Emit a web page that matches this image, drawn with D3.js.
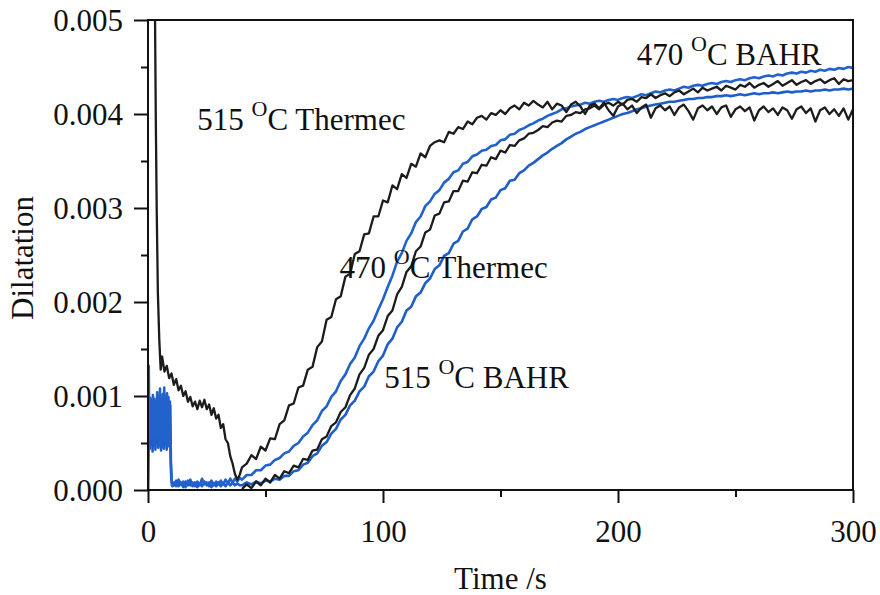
<!DOCTYPE html>
<html>
<head>
<meta charset="utf-8">
<script src="https://cdn.jsdelivr.net/npm/d3@7"></script>
<style>
  html, body { margin: 0; padding: 0; background: #fff; }
  svg { display: block; }
  text { font-family: "Liberation Serif", "Times New Roman", serif; fill: #111; }
</style>
</head>
<body>
<svg id="chart" width="880" height="595"></svg>
<script>
// ---- axis ticks ----
const xMajorTicks = [0, 100, 200, 300];
const xMinorTicks = [50, 150, 250];
const yMajorTicks = [0, 0.001, 0.002, 0.003, 0.004, 0.005];
const yMinorTicks = [0.0005, 0.0015, 0.0025, 0.0035, 0.0045];

// ---- sampling grid for the main part of each run (s) ----
const gridTimes = d3.range(40, 301, 2);

// ---- 515 °C Thermec ----
const thermec515EarlyT = [2.6, 3.0, 3.3, 3.7, 4.2, 4.8, 5.4, 6, 7, 8, 9, 10, 11, 12, 13, 14, 15, 16, 17, 18, 19, 20,
  21, 22, 23, 24, 25, 26, 27, 28, 29, 30, 31, 32, 33, 34, 35, 36, 37, 38, 39];
const thermec515EarlyV = [0.0062, 0.0050, 0.0040, 0.0030, 0.0021, 0.0016, 0.00128, 0.00142, 0.00126, 0.00132, 0.00119,
  0.00124, 0.00112, 0.00118, 0.00106, 0.00111, 0.00100, 0.00105, 0.00094, 0.00099, 0.00089, 0.00094, 0.00086, 0.00095,
  0.00088, 0.00096, 0.00086, 0.00091, 0.00080, 0.00087, 0.00076, 0.00080, 0.00066, 0.00070, 0.00054, 0.00050, 0.00036,
  0.00028, 0.00017, 0.00011, 0.00016];
const thermec515Main = [
  0.00024, 0.00028, 0.00037, 0.00033, 0.00046, 0.00042, 0.00055, 0.00054, 0.00070, 0.00074,
  0.00090, 0.00092, 0.00109, 0.00111, 0.00128, 0.00131, 0.00152, 0.00158, 0.00181, 0.00184,
  0.00203, 0.00206, 0.00227, 0.00230, 0.00251, 0.00254, 0.00272, 0.00273, 0.00291, 0.00291,
  0.00308, 0.00306, 0.00324, 0.00320, 0.00336, 0.00332, 0.00347, 0.00344, 0.00358, 0.00354,
  0.00366, 0.00370, 0.00372, 0.00370, 0.00381, 0.00379, 0.00386, 0.00384, 0.00392, 0.00389,
  0.00396, 0.00398, 0.00394, 0.00401, 0.00399, 0.00404, 0.00400, 0.00406, 0.00409, 0.00405,
  0.00412, 0.00409, 0.00414, 0.00410, 0.00407, 0.00413, 0.00405, 0.00411, 0.00409, 0.00402,
  0.00410, 0.00413, 0.00408, 0.00400, 0.00409, 0.00411, 0.00406, 0.00412, 0.00404, 0.00398,
  0.00408, 0.00411, 0.00405, 0.00409, 0.00401, 0.00407, 0.00410, 0.00396, 0.00406, 0.00409,
  0.00404, 0.00408, 0.00399, 0.00407, 0.00410, 0.00403, 0.00394, 0.00406, 0.00409, 0.00404,
  0.00408, 0.00400, 0.00407, 0.00409, 0.00397, 0.00405, 0.00408, 0.00403, 0.00407, 0.00393,
  0.00404, 0.00408, 0.00402, 0.00406, 0.00399, 0.00407, 0.00404, 0.00395, 0.00405, 0.00408,
  0.00401, 0.00406, 0.00392, 0.00404, 0.00407, 0.00400, 0.00405, 0.00398, 0.00406, 0.00394,
  0.00405];

// ---- 470 °C Thermec ----
const thermec470Main = [
  0.00001, 0.00006, 0.00002, 0.00009, 0.00005, 0.00012, 0.00008, 0.00016, 0.00012, 0.00020,
  0.00018, 0.00026, 0.00024, 0.00033, 0.00032, 0.00042, 0.00043, 0.00054, 0.00057, 0.00068,
  0.00072, 0.00083, 0.00088, 0.00101, 0.00108, 0.00123, 0.00130, 0.00144, 0.00150, 0.00164,
  0.00170, 0.00185, 0.00191, 0.00208, 0.00216, 0.00232, 0.00238, 0.00254, 0.00259, 0.00274,
  0.00277, 0.00292, 0.00294, 0.00306, 0.00307, 0.00318, 0.00318, 0.00329, 0.00328, 0.00338,
  0.00337, 0.00346, 0.00345, 0.00354, 0.00352, 0.00361, 0.00359, 0.00367, 0.00366, 0.00372,
  0.00374, 0.00379, 0.00380, 0.00383, 0.00387, 0.00386, 0.00391, 0.00393, 0.00392, 0.00398,
  0.00399, 0.00402, 0.00401, 0.00405, 0.00406, 0.00409, 0.00405, 0.00410, 0.00412, 0.00409,
  0.00413, 0.00410, 0.00415, 0.00416, 0.00413, 0.00418, 0.00417, 0.00421, 0.00417, 0.00420,
  0.00422, 0.00419, 0.00423, 0.00425, 0.00421, 0.00424, 0.00427, 0.00423, 0.00428, 0.00425,
  0.00427, 0.00429, 0.00425, 0.00430, 0.00428, 0.00426, 0.00431, 0.00429, 0.00433, 0.00428,
  0.00431, 0.00433, 0.00429, 0.00432, 0.00435, 0.00430, 0.00433, 0.00436, 0.00431, 0.00434,
  0.00436, 0.00432, 0.00435, 0.00437, 0.00433, 0.00436, 0.00438, 0.00432, 0.00437, 0.00435,
  0.00436];

// ---- 470 °C BAHR ----
const bahr470EarlyT = [0, 0.3, 0.6, 0.9, 1.2, 1.5, 1.8, 2.1, 2.4, 2.7, 3.0, 3.3, 3.6, 3.9, 4.2, 4.5, 4.8, 5.1, 5.4,
  5.7, 6.0, 6.3, 6.6, 6.9, 7.2, 7.5, 7.8, 8.1, 8.4, 8.7, 9.0, 9.3, 9.6, 9.9, 10.2,
  11, 12, 13, 14, 15, 16, 17, 18, 19, 20, 21, 22, 23, 24, 25, 26, 27, 28, 29, 30, 31, 32, 33, 34, 35, 36, 37, 38, 39];
const bahr470EarlyV = [0, 0.00132, 0.00062, 0.00098, 0.00055, 0.00096, 0.00058, 0.00101, 0.00049, 0.00097, 0.00061,
  0.00094, 0.00052, 0.00104, 0.00057, 0.00099, 0.00048, 0.00108, 0.00060, 0.00095, 0.00046, 0.00102, 0.00056, 0.00109,
  0.00052, 0.00097, 0.00058, 0.00103, 0.00047, 0.00099, 0.00062, 0.00094, 0.00035, 0.00012, 0.00005,
  0.00008, 0.00004, 0.00011, 0.00006, 0.00009, 0.00003, 0.00010, 0.00005, 0.00008, 0.00004, 0.00009, 0.00005, 0.00012,
  0.00006, 0.00008, 0.00004, 0.00010, 0.00005, 0.00009, 0.00006, 0.00010, 0.00006, 0.00011, 0.00007, 0.00012, 0.00008,
  0.00012, 0.00009, 0.00013];
const bahr470Main = [
  0.00011, 0.00016, 0.00016, 0.00021, 0.00021, 0.00026, 0.00027, 0.00032, 0.00034, 0.00039,
  0.00041, 0.00047, 0.00050, 0.00057, 0.00061, 0.00069, 0.00074, 0.00084, 0.00089, 0.00099,
  0.00105, 0.00116, 0.00123, 0.00134, 0.00141, 0.00153, 0.00161, 0.00172, 0.00180, 0.00192,
  0.00203, 0.00216, 0.00228, 0.00243, 0.00252, 0.00265, 0.00273, 0.00285, 0.00291, 0.00302,
  0.00307, 0.00315, 0.00319, 0.00327, 0.00331, 0.00338, 0.00340, 0.00347, 0.00349, 0.00355,
  0.00357, 0.00361, 0.00362, 0.00366, 0.00367, 0.00372, 0.00373, 0.00378, 0.00379, 0.00383,
  0.00385, 0.00388, 0.00390, 0.00393, 0.00395, 0.00398, 0.00400, 0.00402, 0.00405, 0.00406,
  0.00408, 0.00409, 0.00410, 0.00412, 0.00411, 0.00413, 0.00414, 0.00413, 0.00415, 0.00416,
  0.00415, 0.00417, 0.00418, 0.00417, 0.00419, 0.00421, 0.00420, 0.00422, 0.00424, 0.00423,
  0.00425, 0.00426, 0.00425, 0.00427, 0.00429, 0.00428, 0.00430, 0.00431, 0.00430, 0.00432,
  0.00433, 0.00432, 0.00434, 0.00435, 0.00434, 0.00436, 0.00437, 0.00436, 0.00438, 0.00439,
  0.00438, 0.00440, 0.00441, 0.00440, 0.00442, 0.00441, 0.00443, 0.00444, 0.00443, 0.00445,
  0.00444, 0.00446, 0.00445, 0.00447, 0.00446, 0.00448, 0.00447, 0.00449, 0.00448, 0.00450,
  0.00449];

// ---- 515 °C BAHR ----
const bahr515EarlyT = [0, 0.45, 0.75, 1.05, 1.35, 1.65, 1.95, 2.25, 2.55, 2.85, 3.15, 3.45, 3.75, 4.05, 4.35, 4.65,
  4.95, 5.25, 5.55, 5.85, 6.15, 6.45, 6.75, 7.05, 7.35, 7.65, 7.95, 8.25, 8.55, 8.85, 9.15, 9.45, 9.75, 10.05, 10.4,
  11, 12, 13, 14, 15, 16, 17, 18, 19, 20, 21, 22, 23, 24, 25, 26, 27, 28, 29, 30, 31, 32, 33, 34, 35, 36, 37, 38, 39];
const bahr515EarlyV = [0, 0.00088, 0.00044, 0.00082, 0.00053, 0.00078, 0.00041, 0.00086, 0.00055, 0.00079, 0.00043,
  0.00091, 0.00052, 0.00083, 0.00045, 0.00095, 0.00056, 0.00081, 0.00042, 0.00089, 0.00054, 0.00084, 0.00044, 0.00092,
  0.00057, 0.00080, 0.00043, 0.00088, 0.00053, 0.00085, 0.00046, 0.00090, 0.00030, 0.00010, 0.00004,
  0.00005, 0.00010, 0.00004, 0.00008, 0.00003, 0.00009, 0.00005, 0.00011, 0.00004, 0.00008, 0.00003, 0.00007, 0.00004,
  0.00009, 0.00005, 0.00008, 0.00003, 0.00007, 0.00004, 0.00008, 0.00004, 0.00007, 0.00004, 0.00008, 0.00005, 0.00008,
  0.00005, 0.00007, 0.00005];
const bahr515Main = [
  0.00005, 0.00008, 0.00006, 0.00009, 0.00007, 0.00010, 0.00009, 0.00012, 0.00011, 0.00015,
  0.00015, 0.00020, 0.00021, 0.00027, 0.00029, 0.00036, 0.00039, 0.00047, 0.00051, 0.00060,
  0.00065, 0.00075, 0.00080, 0.00090, 0.00095, 0.00105, 0.00110, 0.00121, 0.00126, 0.00137,
  0.00143, 0.00155, 0.00161, 0.00173, 0.00179, 0.00191, 0.00195, 0.00206, 0.00210, 0.00220,
  0.00225, 0.00235, 0.00239, 0.00249, 0.00252, 0.00262, 0.00265, 0.00275, 0.00278, 0.00288,
  0.00291, 0.00299, 0.00301, 0.00309, 0.00311, 0.00319, 0.00321, 0.00329, 0.00330, 0.00337,
  0.00340, 0.00345, 0.00348, 0.00352, 0.00356, 0.00359, 0.00363, 0.00366, 0.00369, 0.00373,
  0.00376, 0.00379, 0.00381, 0.00384, 0.00386, 0.00388, 0.00390, 0.00392, 0.00394, 0.00396,
  0.00398, 0.00400, 0.00401, 0.00403, 0.00405, 0.00406, 0.00408, 0.00409, 0.00410, 0.00411,
  0.00412, 0.00413, 0.00413, 0.00414, 0.00415, 0.00416, 0.00416, 0.00417, 0.00417, 0.00418,
  0.00418, 0.00419, 0.00419, 0.00420, 0.00419, 0.00420, 0.00421, 0.00420, 0.00421, 0.00422,
  0.00421, 0.00422, 0.00422, 0.00423, 0.00422, 0.00423, 0.00424, 0.00423, 0.00424, 0.00424,
  0.00425, 0.00424, 0.00425, 0.00425, 0.00426, 0.00425, 0.00426, 0.00426, 0.00427, 0.00426,
  0.00427];

// ---- curve annotations ----
const labels = [
  { num: "515 ", unit: "C Thermec", t: 21, v: 0.00383 },
  { num: "470 ", unit: "C BAHR", t: 208, v: 0.00452 },
  { num: "470 ", unit: "C Thermec", t: 81.5, v: 0.00226 },
  { num: "515 ", unit: "C BAHR", t: 100.5, v: 0.00109 }
];

// ---- build the series ----
function zip(ts, vs) {
  const n = Math.min(ts.length, vs.length);
  const out = [];
  for (let i = 0; i < n; i++) out.push([ts[i], vs[i]]);
  return out;
}
const series = [
  { name: "515 BAHR", color: "#1f5ec8", width: 2.6, pts: zip(bahr515EarlyT, bahr515EarlyV).concat(zip(gridTimes, bahr515Main)) },
  { name: "470 BAHR", color: "#2162cc", width: 2.6, pts: zip(bahr470EarlyT, bahr470EarlyV).concat(zip(gridTimes, bahr470Main)) },
  { name: "470 Thermec", color: "#1c1c1c", width: 2.3, pts: zip(gridTimes, thermec470Main) },
  { name: "515 Thermec", color: "#1c1c1c", width: 2.3, pts: zip(thermec515EarlyT, thermec515EarlyV).concat(zip(gridTimes, thermec515Main)) }
];

// ---- layout ----
const svg = d3.select("#chart");
const x = d3.scaleLinear().domain([0, 300]).range([148, 853]);
const y = d3.scaleLinear().domain([0, 0.005]).range([490, 20]);

svg.append("defs").append("clipPath").attr("id", "plotClip")
  .append("rect")
  .attr("x", x(0)).attr("y", y(0.005))
  .attr("width", x(300) - x(0)).attr("height", y(0) - y(0.005));

// curves
const line = d3.line().x(d => x(d[0])).y(d => y(d[1]));
svg.append("g").attr("clip-path", "url(#plotClip)")
  .selectAll("path").data(series).join("path")
  .attr("d", d => line(d.pts))
  .attr("fill", "none")
  .attr("stroke", d => d.color)
  .attr("stroke-width", d => d.width)
  .attr("stroke-linejoin", "round");

// frame
svg.append("rect")
  .attr("x", x(0)).attr("y", y(0.005))
  .attr("width", x(300) - x(0)).attr("height", y(0) - y(0.005))
  .attr("fill", "none").attr("stroke", "#111").attr("stroke-width", 2);

// x axis
const xAxis = svg.append("g").attr("transform", `translate(0,${y(0)})`);
xAxis.call(d3.axisBottom(x).tickValues(xMajorTicks).tickSize(13).tickFormat(d3.format("d")));
xAxis.call(g => g.select(".domain").remove());
xAxis.selectAll(".tick line").attr("stroke", "#111").attr("stroke-width", 2);
xAxis.selectAll(".tick text").attr("font-size", 31).attr("dy", 0).attr("y", 52)
  .attr("font-family", "Liberation Serif, Times New Roman, serif").attr("fill", "#111");
const xMinor = svg.append("g").attr("transform", `translate(0,${y(0)})`);
xMinor.call(d3.axisBottom(x).tickValues(xMinorTicks).tickSize(7).tickFormat(""));
xMinor.call(g => g.select(".domain").remove());
xMinor.selectAll(".tick line").attr("stroke", "#111").attr("stroke-width", 2);

// y axis
const yAxis = svg.append("g").attr("transform", `translate(${x(0)},0)`);
yAxis.call(d3.axisLeft(y).tickValues(yMajorTicks).tickSize(14).tickFormat(d3.format(".3f")));
yAxis.call(g => g.select(".domain").remove());
yAxis.selectAll(".tick line").attr("stroke", "#111").attr("stroke-width", 2);
yAxis.selectAll(".tick text").attr("font-size", 31).attr("x", -25).attr("dy", "0.33em")
  .attr("font-family", "Liberation Serif, Times New Roman, serif").attr("fill", "#111");
const yMinor = svg.append("g").attr("transform", `translate(${x(0)},0)`);
yMinor.call(d3.axisLeft(y).tickValues(yMinorTicks).tickSize(7).tickFormat(""));
yMinor.call(g => g.select(".domain").remove());
yMinor.selectAll(".tick line").attr("stroke", "#111").attr("stroke-width", 2);

// axis titles
svg.append("text")
  .attr("x", (x(0) + x(300)) / 2).attr("y", 589)
  .attr("text-anchor", "middle").attr("font-size", 31)
  .text("Time /s");
svg.append("text")
  .attr("transform", `translate(33,${(y(0) + y(0.005)) / 2 + 3}) rotate(-90)`)
  .attr("text-anchor", "middle").attr("font-size", 31)
  .text("Dilatation");

// annotations with superscript degree mark
labels.forEach(l => {
  const t = svg.append("text")
    .attr("x", x(l.t)).attr("y", y(l.v))
    .attr("font-size", 31);
  t.append("tspan").text(l.num);
  t.append("tspan").attr("font-size", 22).attr("dy", -14).text("O");
  t.append("tspan").attr("dy", 14).text(l.unit);
});
</script>
</body>
</html>
